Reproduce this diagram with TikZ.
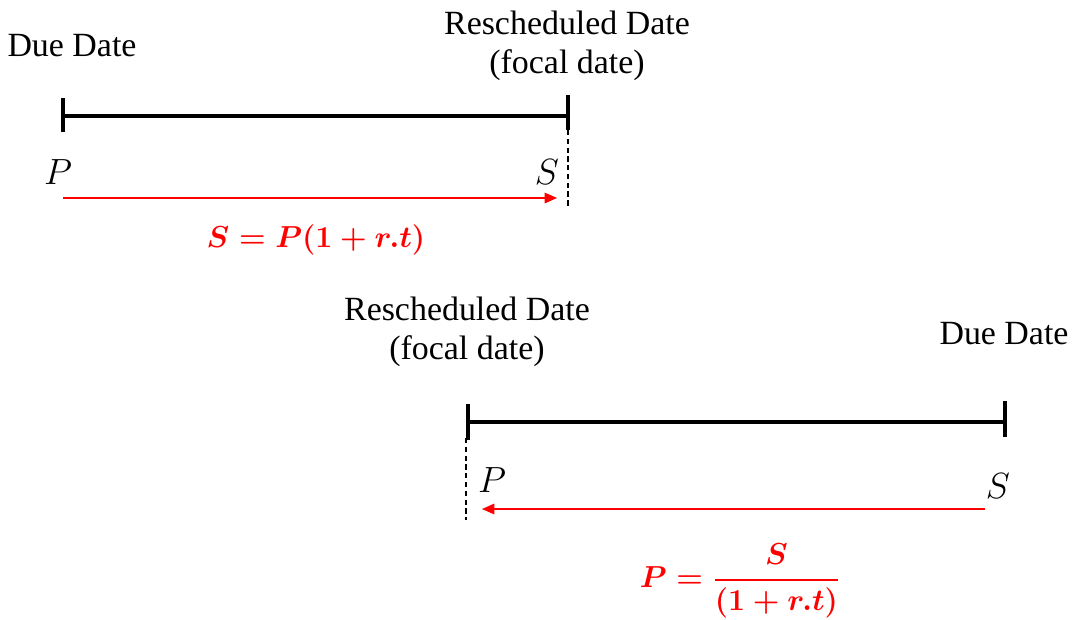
\documentclass[tikz,border=0pt]{standalone}
\usepackage{amsmath, amssymb, xcolor}
\usepackage{fontspec}
\setmainfont{Liberation Serif}
\usetikzlibrary{arrows.meta}

\begin{document}
\begin{tikzpicture}[x=0.02cm, y=-0.02cm,
  timeline/.style={line width=2.3pt, black},
  focal/.style={densely dashed, line width=0.6pt},
  flow/.style={red, line width=0.7pt, -{Triangle[length=7pt, width=6pt]}},
  lbl/.style={font=\fontsize{19.3}{22.5}\selectfont, align=center, inner sep=0pt},
  var/.style={font=\fontsize{21}{24}\selectfont, inner sep=0pt},
  formula/.style={red, font=\fontsize{17.5}{21}\selectfont\boldmath, inner sep=0pt}]
  \useasboundingbox (0,0) rectangle (1075,619);

  % upper timeline: due date -> rescheduled date
  \coordinate (due1) at (63,116);
  \coordinate (res1) at (568,116);
  \draw[timeline] (due1) -- (res1);
  \draw[timeline] (due1) ++(0,-18) -- ++(0,34);
  \draw[timeline] (res1) ++(0,-21) -- ++(0,35);
  \coordinate (res1end) at (568,208);
  \draw[focal] (res1) ++(0,14) -- (res1end);
  \node[lbl] (due1lbl) at (72,46) {Due Date};
  \node[lbl] (res1lbl) at (567,46) {Rescheduled Date\\(focal date)};
  \node[var] (P1) at (58,172) {$P$};
  \node[var] (S1) at (547,172) {$S$};
  \coordinate (arrA) at (63,198);
  \coordinate (arrB) at (557,198);
  \draw[flow] (arrA) -- (arrB);
  \node[formula] (fv) at (316,240) {$S = P(1 + r.t)$};

  % lower timeline: rescheduled date <- due date
  \coordinate (res2) at (468,422);
  \coordinate (due2) at (1005,422);
  \draw[timeline] (res2) -- (due2);
  \draw[timeline] (res2) ++(0,-18) -- ++(0,36);
  \draw[timeline] (due2) ++(0,-21) -- ++(0,36);
  \coordinate (res2end) at (466,520);
  \draw[focal] (466,438) -- (res2end);
  \node[lbl] (res2lbl) at (467,332) {Rescheduled Date\\(focal date)};
  \node[lbl] (due2lbl) at (1004,334) {Due Date};
  \node[var] (P2) at (492,480) {$P$};
  \node[var] (S2) at (998,486) {$S$};
  \coordinate (arrC) at (985,509);
  \coordinate (arrD) at (482,509);
  \draw[flow] (arrC) -- (arrD);
  \node[formula] (pv) at (740,581) {$P = \dfrac{S}{(1 + r.t)}$};
\end{tikzpicture}
\end{document}
